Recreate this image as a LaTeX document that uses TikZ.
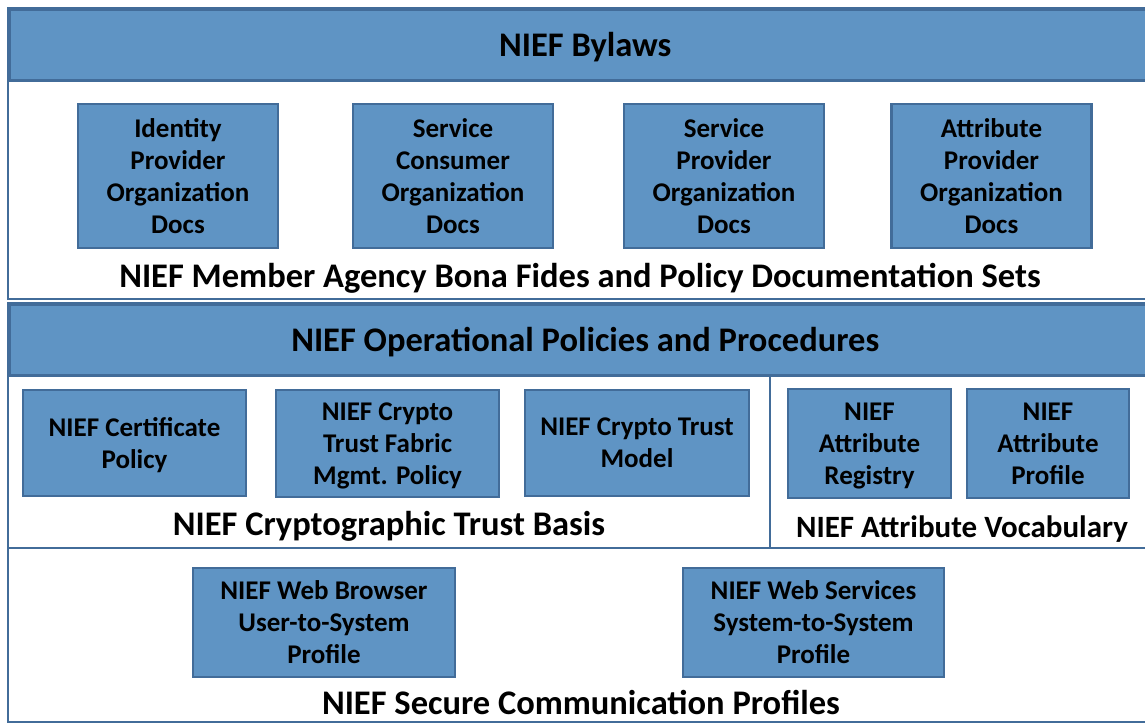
\documentclass[tikz,border=0pt]{standalone}
\usepackage{fontspec}
\setmainfont{Carlito}
\usetikzlibrary{positioning}
\definecolor{niefblue}{RGB}{95,148,196}
\definecolor{niefedge}{RGB}{66,108,153}
\newcommand{\boxfont}{\fontsize{27}{32}\selectfont\bfseries}
\newcommand{\capfont}{\fontsize{34.5}{40}\selectfont\bfseries}

\begin{document}
\begin{tikzpicture}[x=1pt,y=-1pt,%
      frame/.style={draw=niefedge,line width=2.5pt},%
      band/.style={frame,fill=niefblue,font=\capfont,anchor=north west,minimum width=1152pt,minimum height=71pt,inner sep=0pt,text depth=0pt},%
      doc/.style={draw=niefedge,line width=2.5pt,fill=niefblue,font=\boxfont,align=center,inner sep=0pt,text depth=0pt},%
      caption/.style={font=\capfont,inner sep=0pt}]
      \useasboundingbox (0,0) rectangle (1145,724);
      \clip (0,0) rectangle (1145,724);

      % % Member agency documents
      \draw[frame] (8,8) rectangle (1160,299);
      \node[band] (bylaws) at (8,8) {NIEF Bylaws};
      \node[doc,minimum width=200pt,minimum height=144pt] (idp) at (178,176) {Identity\\Provider\\Organization\\Docs};
      \node[doc,minimum width=200pt,minimum height=144pt] (sco) at (453,176) {Service\\Consumer\\Organization\\Docs};
      \node[doc,minimum width=200pt,minimum height=144pt] (spo) at (724,176) {Service\\Provider\\Organization\\Docs};
      \node[doc,minimum width=200pt,minimum height=144pt] (apo) at (991.5,176) {Attribute\\Provider\\Organization\\Docs};
      \node[caption] (members) at (580,278) {NIEF Member Agency Bona Fides and Policy Documentation Sets};

      % % Operational policies
      \draw[frame] (8,303) rectangle (1160,548);
      \draw[frame] (770,374) -- (770,548);
      \node[band] (opp) at (8,303) {NIEF Operational Policies and Procedures};
      \node[doc,minimum width=223pt,minimum height=106pt] (certpol) at (134.5,443) {NIEF Certificate\\Policy};
      \node[doc,minimum width=223pt,minimum height=107pt] (fabric) at (387.5,443.5) {NIEF Crypto\\Trust Fabric\\Mgmt. Policy};
      \node[doc,minimum width=224pt,minimum height=106pt] (trustmodel) at (637,443) {NIEF Crypto Trust\\Model};
      \node[doc,minimum width=163pt,minimum height=109pt] (registry) at (869.5,443.5) {NIEF\\Attribute\\Registry};
      \node[doc,minimum width=162pt,minimum height=109pt] (attrprofile) at (1048,443.5) {NIEF\\Attribute\\Profile};
      \node[caption] (crypto) at (389,526) {NIEF Cryptographic Trust Basis};
      \node[caption,font=\fontsize{31}{36}\selectfont\bfseries] (vocab) at (962,529) {NIEF Attribute Vocabulary};

      % % Communication profiles
      \draw[frame] (8,548) rectangle (1160,722);
      \node[doc,minimum width=262pt,minimum height=109pt] (browser) at (324,622.5) {NIEF Web Browser\\User-to-System\\Profile};
      \node[doc,minimum width=261pt,minimum height=109pt] (services) at (813.5,622.5) {NIEF Web Services\\System-to-System\\Profile};
      \node[caption] (secure) at (581,702) {NIEF Secure Communication Profiles};
  \end{tikzpicture}
\end{document}
